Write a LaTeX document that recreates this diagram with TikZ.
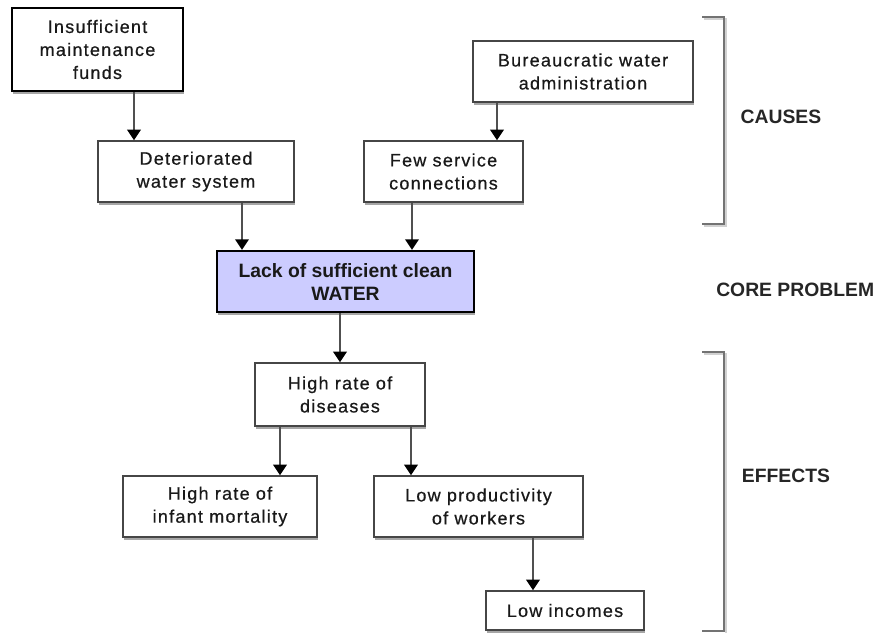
\documentclass[tikz,border=0pt]{standalone}
\usepackage{fontspec}
\setmainfont{Liberation Sans}
\newfontfamily\cajafont{Liberation Sans}[LetterSpace=7, FakeBold=0.6]
\usetikzlibrary{arrows.meta,shadows}
\definecolor{lila}{RGB}{204,204,255}
\definecolor{borde}{RGB}{70,70,70}
\definecolor{linea}{RGB}{80,80,80}
\begin{document}
\begin{tikzpicture}[x=0.75pt, y=-0.75pt,
        caja/.style={draw=borde, line width=1.1pt, fill=white, align=center, inner sep=0pt,
            font=\cajafont\fontsize{13.5}{17.25}\selectfont, text=black!90,
            drop shadow={shadow xshift=1pt, shadow yshift=-2pt, fill=black!35, opacity=1}},
        nucleo/.style={caja, draw=black, line width=1.6pt, fill=lila, font=\bfseries\fontsize{14.5}{17.25}\selectfont},
        flecha/.style={-{Triangle[length=8pt, width=10pt, color=black]}, line width=1.9pt, draw=linea},
        corchete/.style={draw=black!55, line width=1.1pt},
        sombra/.style={draw=black!18, line width=1.6pt},
        etiqueta/.style={font=\bfseries\fontsize{14.5}{17}\selectfont, text=black!85}
    ]
    \useasboundingbox (0,0) rectangle (881,632);

    % causas
    \node[caja, draw=black, line width=1.6pt, minimum width=128.25pt, minimum height=62.25pt] (fondos) at (97.5,49.5) {Insufficient\\maintenance\\funds};
    \node[caja, minimum width=165pt, minimum height=45.75pt] (burocracia) at (583,71.5) {Bureaucratic water\\administration};
    \node[caja, minimum width=147pt, minimum height=45.75pt] (deterioro) at (196,171.5) {Deteriorated\\water system};
    \node[caja, minimum width=119.25pt, minimum height=45.75pt] (conexiones) at (443.5,171.5) {Few service\\connections};

    % problema central
    \node[nucleo, minimum width=192.75pt, minimum height=45.75pt] (agua) at (345.5,281.5) {Lack of sufficient clean\\WATER};

    % efectos
    \node[caja, minimum width=127.5pt, minimum height=47.25pt] (enfermedades) at (340,394.5) {High rate of\\diseases};
    \node[caja, minimum width=145.5pt, minimum height=45.75pt] (mortalidad) at (220,506.5) {High rate of\\infant mortality};
    \node[caja, minimum width=156.75pt, minimum height=45.75pt] (productividad) at (478.5,506.5) {Low productivity\\of workers};
    \node[caja, minimum width=118.5pt, minimum height=29.25pt] (ingresos) at (565,610.5) {Low incomes};

    \draw [flecha] (134,0 |- fondos.south) -- (134,0 |- deterioro.north);
    \draw [flecha] (497,0 |- burocracia.south) -- (497,0 |- conexiones.north);
    \draw [flecha] (242,0 |- deterioro.south) -- (242,0 |- agua.north);
    \draw [flecha] (412,0 |- conexiones.south) -- (412,0 |- agua.north);
    \draw [flecha] (340,0 |- agua.south) -- (340,0 |- enfermedades.north);
    \draw [flecha] (280,0 |- enfermedades.south) -- (280,0 |- mortalidad.north);
    \draw [flecha] (411,0 |- enfermedades.south) -- (411,0 |- productividad.north);
    \draw [flecha] (533,0 |- productividad.south) -- (533,0 |- ingresos.north);

    % corchetes y etiquetas
    \draw [sombra] (704,19) -- (726,19) -- (726,226) -- (704,226);
    \draw [sombra] (704,354) -- (726,354) -- (726,633);
    \draw [corchete] (702,17) -- (724,17) -- (724,224) -- (702,224);
    \draw [corchete] (702,352) -- (724,352) -- (724,631) -- (702,631);
    \node[etiqueta] (causas) at (781,117) {CAUSES};
    \node[etiqueta, anchor=west, inner sep=0pt] (central) at (716,290) {CORE PROBLEM};
    \node[etiqueta] (efectos) at (786,476) {EFFECTS};
\end{tikzpicture}
\end{document}
